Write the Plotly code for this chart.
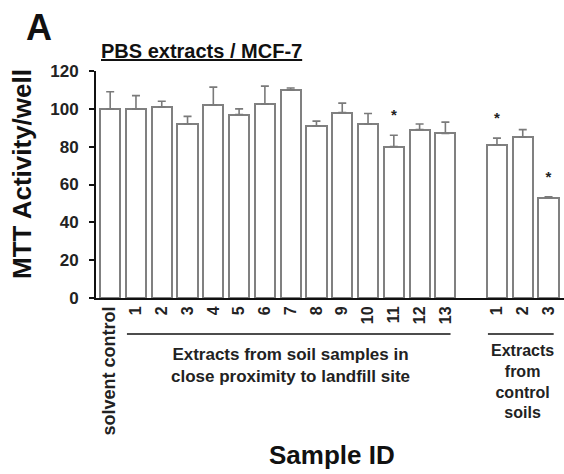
import plotly.graph_objects as go

# ---- data ----
control_label = ["solvent control"]
landfill_labels = [str(i) for i in range(1, 14)]
control_soil_labels = ["1", "2", "3"]

control_mean = [100]
control_err = [9]
landfill_mean = [100, 101, 92, 102, 97, 102.5, 110, 91, 98, 92, 80, 89, 87]
landfill_err = [7, 3, 4, 9.5, 3, 9.5, 1, 2.5, 5, 5.5, 6, 3, 6]
soil_mean = [81, 85, 53]
soil_err = [3.5, 4, 0.5]

control_sig = [False]
landfill_sig = [False] * 10 + [True, False, False]
soil_sig = [True, False, True]

group_landfill_text = "Extracts from soil samples in<br>close proximity to landfill site"
group_soil_text = "Extracts<br>from<br>control<br>soils"

# ---- positions (slot index, with one empty slot between groups) ----
pos_control = [0]
pos_landfill = [1 + i for i in range(len(landfill_labels))]
gap_start = pos_landfill[-1] + 2
pos_soil = [gap_start + i for i in range(len(soil_mean))]

xs = pos_control + pos_landfill + pos_soil
means = control_mean + landfill_mean + soil_mean
errs = control_err + landfill_err + soil_err
sigs = control_sig + landfill_sig + soil_sig
labels = ['<span style="font-size:18px">solvent control</span>'] + landfill_labels + control_soil_labels

FONT = "Liberation Sans, Arial, sans-serif"

fig = go.Figure()
fig.add_trace(go.Bar(
    x=xs, y=means, width=0.78,
    marker=dict(color="white", line=dict(color="#808080", width=2)),
    error_y=dict(type="data", symmetric=False, array=errs,
                 arrayminus=[0] * len(errs), color="#7a7a7a",
                 thickness=1.6, width=4),
    showlegend=False, hoverinfo="skip",
))

star_x = [x for x, s in zip(xs, sigs) if s]
star_y = [m + e + 10 for m, e, s in zip(means, errs, sigs) if s]
fig.add_trace(go.Scatter(
    x=star_x, y=star_y, mode="text", text=["*"] * len(star_x),
    textposition="middle center",
    textfont=dict(family=FONT, size=15, color="#222", weight="bold"),
    showlegend=False, hoverinfo="skip",
))

x_min, x_max = -0.55, pos_soil[-1] + 0.6

fig.update_layout(
    width=564, height=474,
    margin=dict(l=96, r=0, t=71, b=176),
    paper_bgcolor="white", plot_bgcolor="white",
    font=dict(family=FONT, color="#111"),
    bargap=0,
    xaxis=dict(
        range=[x_min, x_max], tickmode="array", tickvals=xs, ticktext=labels,
        tickangle=-90, ticks="", showline=True, linecolor="#111", linewidth=2,
        showgrid=False, zeroline=False,
        tickfont=dict(family=FONT, size=16, color="#222", weight="bold"),
    ),
    yaxis=dict(
        range=[0, 120], dtick=20, ticks="outside", ticklen=5, tickwidth=2,
        tickcolor="#111", showline=True, linecolor="#111", linewidth=2,
        showgrid=False, zeroline=False, ticklabelstandoff=7,
        tickfont=dict(family=FONT, size=17, color="#222", weight="bold"),
    ),
)

def px_to_paper_y(py):
    return (298 - py) / 227.0

def px_to_paper_x(px):
    return (px - 96) / 468.0

# group lines
for grp in (pos_landfill, pos_soil):
    fig.add_shape(type="line", xref="x", yref="paper",
                  x0=grp[0] - 0.35, x1=grp[-1] + 0.2,
                  y0=px_to_paper_y(334), y1=px_to_paper_y(334),
                  line=dict(color="#111", width=1.5))

ann_font = dict(family=FONT, size=17, color="#222", weight="bold")
fig.add_annotation(x=(pos_landfill[0] + pos_landfill[-1]) / 2, xref="x",
                   xanchor="center",
                   y=px_to_paper_y(365.5), yref="paper", yanchor="middle",
                   text=group_landfill_text, showarrow=False, font=ann_font)
fig.add_annotation(x=(pos_soil[0] + pos_soil[-1]) / 2, xref="x",
                   xanchor="center",
                   y=px_to_paper_y(381), yref="paper", yanchor="middle",
                   text=group_soil_text, showarrow=False,
                   font=dict(family=FONT, size=16, color="#222", weight="bold"))

fig.add_annotation(x=px_to_paper_x(332), xref="paper", xanchor="center",
                   y=px_to_paper_y(455), yref="paper", yanchor="middle",
                   text="Sample ID", showarrow=False,
                   font=dict(family=FONT, size=26, color="#111", weight="bold"))
fig.add_annotation(x=px_to_paper_x(22), xref="paper", xanchor="center",
                   y=px_to_paper_y(174), yref="paper", yanchor="middle",
                   text="MTT Activity/well", textangle=-90,
                   showarrow=False,
                   font=dict(family=FONT, size=26, color="#111", weight="bold"))
fig.add_annotation(x=px_to_paper_x(39), xref="paper", xanchor="center",
                   y=px_to_paper_y(27), yref="paper", yanchor="middle",
                   text="A", showarrow=False,
                   font=dict(family=FONT, size=36, color="#111", weight="bold"))
fig.add_annotation(x=px_to_paper_x(99), xref="paper", xanchor="left",
                   y=px_to_paper_y(51), yref="paper", yanchor="middle",
                   text="PBS extracts / MCF-7", showarrow=False,
                   font=dict(family=FONT, size=20, color="#111", weight="bold",
                             lineposition="under"))

fig.write_html("out.html")
